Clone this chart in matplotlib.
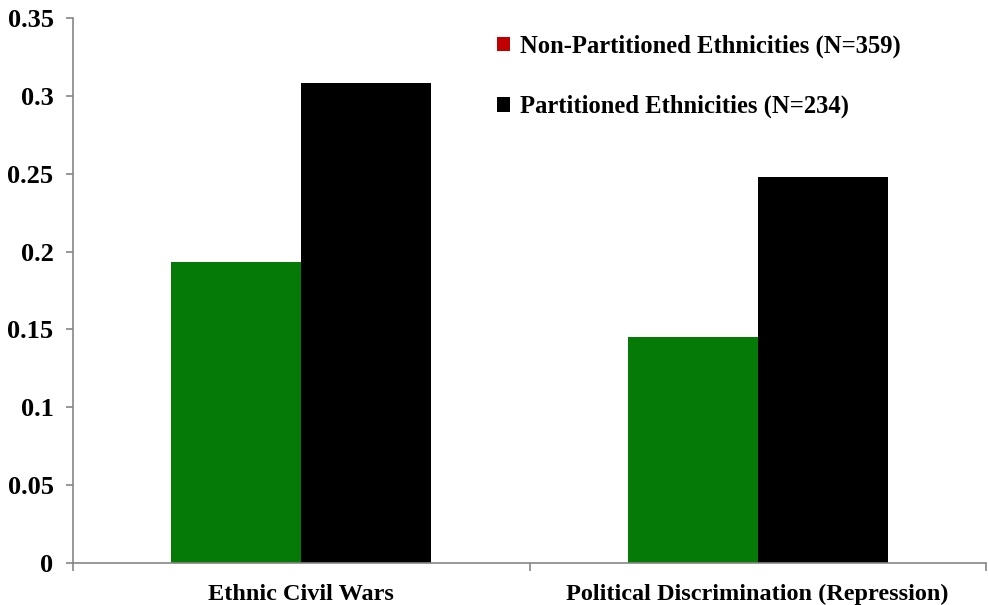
import matplotlib
matplotlib.use("Agg")
import matplotlib.pyplot as plt
from matplotlib.patches import Patch
import numpy as np

categories = ["Ethnic Civil Wars", "Political Discrimination (Repression)"]
non_partitioned = [0.193, 0.145]
partitioned = [0.308, 0.248]
series_labels = ["Non-Partitioned Ethnicities (N=359)", "Partitioned Ethnicities (N=234)"]
y_ticks = [0, 0.05, 0.1, 0.15, 0.2, 0.25, 0.3, 0.35]
y_tick_labels = ["0", "0.05", "0.1", "0.15", "0.2", "0.25", "0.3", "0.35"]

plt.rcParams["font.family"] = ["Liberation Serif", "DejaVu Serif"]
plt.rcParams["font.weight"] = "bold"

fig = plt.figure(figsize=(9.88, 6.05), dpi=100)
ax = fig.add_axes([73 / 988, 1 - 563 / 605, 913 / 988, 545 / 605])

x = np.arange(len(categories))
w = 0.285
ax.bar(x - w / 2, non_partitioned, width=w, color="#067a06")
ax.bar(x + w / 2, partitioned, width=w, color="#000000")

ax.set_xlim(-0.5, len(categories) - 0.5)
ax.set_ylim(0, 0.35)
ax.set_yticks(y_ticks)
ax.set_yticklabels(y_tick_labels, fontsize=19, fontweight="bold")

# category labels centred, tick marks on the category boundaries
ax.set_xticks(x)
ax.set_xticklabels(categories, fontsize=17.5, fontweight="bold")
ax.tick_params(axis="x", which="major", length=0, pad=15)
ax.set_xticks(np.arange(len(categories) + 1) - 0.5, minor=True)
ax.tick_params(axis="x", which="minor", length=6, color="#868686", width=1.2)
ax.tick_params(axis="y", length=5, color="#868686", width=1.2, pad=9)

for side in ("top", "right"):
    ax.spines[side].set_visible(False)
for side in ("left", "bottom"):
    ax.spines[side].set_color("#868686")
    ax.spines[side].set_linewidth(1.2)

handles = [Patch(facecolor="#c00000"), Patch(facecolor="#000000")]
leg = ax.legend(handles, series_labels, loc="upper left",
                bbox_to_anchor=(0.44, 1.01), frameon=False,
                prop={"size": 17.7, "weight": "bold"},
                handlelength=0.55, handleheight=0.55, handletextpad=0.4,
                labelspacing=1.5)

fig.savefig("out.png", dpi=100, facecolor="white")
